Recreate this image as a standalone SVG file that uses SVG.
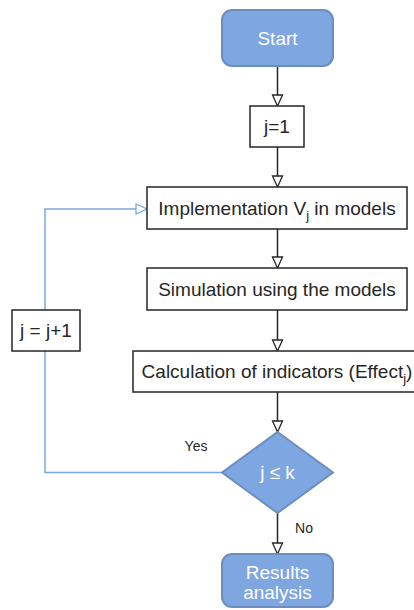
<svg xmlns="http://www.w3.org/2000/svg" width="414" height="610" viewBox="0 0 414 610">
<style>
text{font-family:"Liberation Sans",Arial,sans-serif;font-size:19px;fill:#262626;text-anchor:middle}
.w{fill:#ffffff}
.lbl{font-size:14px}
.box{fill:#ffffff;stroke:#262626;stroke-width:1.5}
.blue{fill:#7ea6e0;stroke:#6c8ebf;stroke-width:2}
.c{fill:none;stroke:#262626;stroke-width:1.5}
.cb{fill:none;stroke:#7ea6e0;stroke-width:1.5}
.sub{font-size:13px}
</style>
<defs>
<marker id="a" markerWidth="14" markerHeight="14" refX="12" refY="6" orient="auto" markerUnits="userSpaceOnUse">
<path d="M1,1 L12,6 L1,11 Z" fill="#ffffff" stroke="#262626" stroke-width="1.3"/>
</marker>
<marker id="ab" markerWidth="14" markerHeight="14" refX="12" refY="6" orient="auto" markerUnits="userSpaceOnUse">
<path d="M1,1 L12,6 L1,11 Z" fill="#ffffff" stroke="#7ea6e0" stroke-width="1.3"/>
</marker>
</defs>
<g id="connectors">
<path class="c" d="M277.5,66 V106" marker-end="url(#a)"/>
<path class="c" d="M277.5,147 V187" marker-end="url(#a)"/>
<path class="c" d="M277.5,229 V268" marker-end="url(#a)"/>
<path class="c" d="M277.5,310 V351" marker-end="url(#a)"/>
<path class="c" d="M277.5,392 V432" marker-end="url(#a)"/>
<path class="c" d="M277.5,513 V554" marker-end="url(#a)"/>
<path class="cb" d="M222,472.5 H45 V209 H147" marker-end="url(#ab)"/>
<text class="lbl" x="196" y="451">Yes</text>
<text class="lbl" x="304" y="533">No</text>
</g>
<g id="start">
<rect class="blue" x="222" y="10" width="111" height="56" rx="10"/>
<text class="w" x="277.5" y="44.5">Start</text>
</g>
<g id="init">
<rect class="box" x="250" y="106" width="54" height="41"/>
<text x="277" y="133">j=1</text>
</g>
<g id="implementation">
<rect class="box" x="147" y="187" width="260" height="42"/>
<text x="277" y="215">Implementation V<tspan class="sub" dy="5">j</tspan><tspan dy="-5"> in models</tspan></text>
</g>
<g id="simulation">
<rect class="box" x="147" y="268" width="260" height="42"/>
<text x="277" y="296">Simulation using the models</text>
</g>
<g id="calculation">
<rect class="box" x="133" y="351" width="290" height="41"/>
<text x="277" y="378">Calculation of indicators (Effect<tspan class="sub" dy="5">j</tspan><tspan dy="-5">)</tspan></text>
</g>
<g id="increment">
<rect class="box" x="12" y="310" width="68" height="41"/>
<text x="46" y="337">j = j+1</text>
</g>
<g id="decision">
<path class="blue" d="M277.5,432 L333,472.5 L277.5,513 L222,472.5 Z"/>
<text class="w" x="277.5" y="479">j ≤ k</text>
</g>
<g id="results">
<rect class="blue" x="222" y="554" width="111" height="53" rx="10"/>
<text class="w" x="277.5" y="579">Results</text>
<text class="w" x="277.5" y="599">analysis</text>
</g>
</svg>
